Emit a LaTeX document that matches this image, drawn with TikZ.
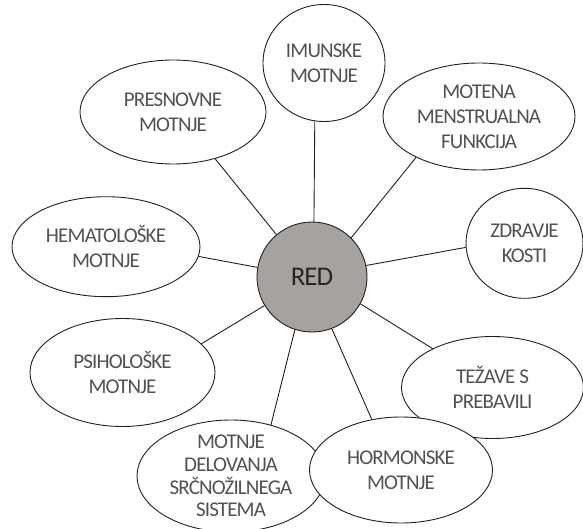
\documentclass[tikz,border=0pt]{standalone}
\usepackage{fontspec}
\setmainfont{Carlito}[LetterSpace=-4]
\usetikzlibrary{shapes.geometric}

\definecolor{textgray}{RGB}{82,82,82}
\definecolor{redgray}{RGB}{166,162,159}
\definecolor{linegray}{RGB}{35,31,32}

\tikzset{
  every topic/.style={ellipse, draw=linegray, line width=0.9pt, fill=white,
    inner sep=0pt, align=center, text=textgray,
    font=\fontsize{21}{25}\selectfont},
  topic del/.style={inner ysep=-8pt, font=\fontsize{21}{22.7}\selectfont},
  every link/.style={draw=linegray, line width=0.9pt}
}

\begin{document}
\begin{tikzpicture}[x=1pt, y=1pt]
\useasboundingbox (0,0) rectangle (583,528);

% Teme okoli

\foreach \n/\x/\y/\w/\h/\t in {
    imun/324/465/122/117/{IMUNSKE\\MOTNJE},
    pres/173/416/186/104/{PRESNOVNE\\MOTNJE},
    mot/479/411.5/192/107/{MOTENA\\MENSTRUALNA\\FUNKCIJA},
    zdr/524.5/284.7/117/110/{ZDRAVJE\\KOSTI},
    hema/106/281.3/188/100/{HEMATOLOŠKE\\MOTNJE},
    psih/122.5/155.5/185/108/{PSIHOLOŠKE\\MOTNJE},
    tez/492.5/140.5/182/102/{TEŽAVE S\\PREBAVILI},
    del/231/52/188/112/{MOTNJE\\DELOVANJA\\SRČNOŽILNEGA\\SISTEMA},
    horm/401/58/183/106/{HORMONSKE\\MOTNJE}}
  \node [every topic, topic \n/.try, minimum width=\w pt, minimum height=\h pt]
    (\n) at (\x,\y) {\t};

% Sredina

\node [circle, draw=linegray, line width=0.9pt, fill=redgray, minimum size=110pt,
  inner sep=0pt, text=black!85, font=\fontsize{27}{30}\selectfont] (red) at (312,251) {RED};

% Povezave

\foreach \n/\a/\b in {imun/88/261, pres/130/312, mot/45/213, zdr/12/184,
    hema/170/354, psih/211/20, del/252/52, horm/291/120, tez/331/147}
  \draw [every link] (red.\a) -- (\n.\b);

\end{tikzpicture}
\end{document}
